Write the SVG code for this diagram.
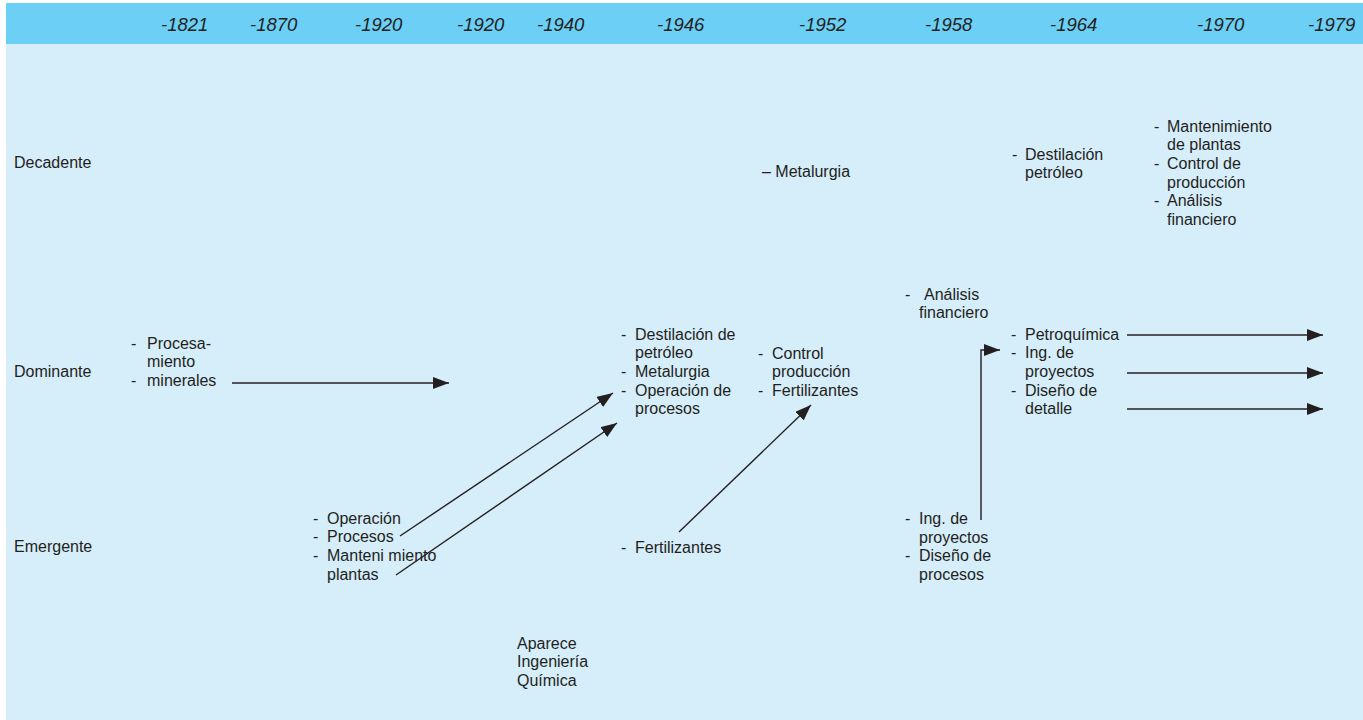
<svg xmlns="http://www.w3.org/2000/svg" width="1363" height="720" viewBox="0 0 1363 720">
<style>
.t{font-family:"Liberation Sans",Arial,sans-serif;font-size:16px;fill:#231f20}
.y{font-family:"Liberation Sans",Arial,sans-serif;font-size:18.5px;font-style:italic;fill:#231f20}
.c{stroke:#231f20;stroke-width:1.4;fill:none;marker-end:url(#ah)}
</style>
<defs>
<marker id="ah" markerUnits="userSpaceOnUse" markerWidth="18" markerHeight="13" refX="16" refY="6" orient="auto">
<path d="M0,0 L16,6 L0,12 z" fill="#231f20"/>
</marker>
</defs>
<rect x="0" y="0" width="1363" height="720" fill="#ffffff"/>
<rect x="6" y="3" width="1357" height="717" fill="#d6edfa"/>
<rect x="6" y="3" width="1357" height="41" fill="#6bcff6"/>
<g id="years">
<text class="y" x="161" y="31">-1821</text>
<text class="y" x="250" y="31">-1870</text>
<text class="y" x="355" y="31">-1920</text>
<text class="y" x="457" y="31">-1920</text>
<text class="y" x="537" y="31">-1940</text>
<text class="y" x="657" y="31">-1946</text>
<text class="y" x="799" y="31">-1952</text>
<text class="y" x="925" y="31">-1958</text>
<text class="y" x="1050" y="31">-1964</text>
<text class="y" x="1197" y="31">-1970</text>
<text class="y" x="1308" y="31">-1979</text>
</g>
<g id="rows">
<text class="t" x="14" y="168">Decadente</text>
<text class="t" x="14" y="377">Dominante</text>
<text class="t" x="14" y="552">Emergente</text>
</g>
<g id="n1821">
<text class="t"><tspan x="131" y="348.5">-</tspan><tspan x="147" y="348.5">Procesa-</tspan><tspan x="147" y="367.2">miento</tspan><tspan x="131" y="386">-</tspan><tspan x="147" y="386">minerales</tspan></text>
</g>
<g id="n1920e">
<text class="t"><tspan x="313" y="523.5">-</tspan><tspan x="327" y="523.5">Operación</tspan><tspan x="313" y="542.2">-</tspan><tspan x="327" y="542.2">Procesos</tspan><tspan x="313" y="560.9">-</tspan><tspan x="327" y="560.9">Manteni miento</tspan><tspan x="327" y="579.6">plantas</tspan></text>
</g>
<g id="n1940">
<text class="t"><tspan x="517" y="648.5">Aparece</tspan><tspan x="517" y="667.2">Ingeniería</tspan><tspan x="517" y="685.9">Química</tspan></text>
</g>
<g id="n1946d">
<text class="t"><tspan x="621" y="339.5">-</tspan><tspan x="635" y="339.5">Destilación de</tspan><tspan x="635" y="358.2">petróleo</tspan><tspan x="621" y="376.9">-</tspan><tspan x="635" y="376.9">Metalurgia</tspan><tspan x="621" y="395.6">-</tspan><tspan x="635" y="395.6">Operación de</tspan><tspan x="635" y="414.3">procesos</tspan></text>
</g>
<g id="n1946e">
<text class="t"><tspan x="621" y="552.5">-</tspan><tspan x="635" y="552.5">Fertilizantes</tspan></text>
</g>
<g id="n1952dec">
<text class="t" x="762" y="177">– Metalurgia</text>
</g>
<g id="n1952d">
<text class="t"><tspan x="758" y="358.5">-</tspan><tspan x="772" y="358.5">Control</tspan><tspan x="772" y="377.2">producción</tspan><tspan x="758" y="395.9">-</tspan><tspan x="772" y="395.9">Fertilizantes</tspan></text>
</g>
<g id="n1958d">
<text class="t"><tspan x="905" y="299.5">-</tspan><tspan x="924" y="299.5">Análisis</tspan><tspan x="919" y="318.2">financiero</tspan></text>
</g>
<g id="n1958e">
<text class="t"><tspan x="905" y="524">-</tspan><tspan x="919" y="524">Ing. de</tspan><tspan x="919" y="542.7">proyectos</tspan><tspan x="905" y="561.4">-</tspan><tspan x="919" y="561.4">Diseño de</tspan><tspan x="919" y="580.1">procesos</tspan></text>
</g>
<g id="n1964dec">
<text class="t"><tspan x="1012" y="159.5">-</tspan><tspan x="1025" y="159.5">Destilación</tspan><tspan x="1025" y="178.2">petróleo</tspan></text>
</g>
<g id="n1964d">
<text class="t"><tspan x="1011" y="339.5">-</tspan><tspan x="1025" y="339.5">Petroquímica</tspan><tspan x="1011" y="358.2">-</tspan><tspan x="1025" y="358.2">Ing. de</tspan><tspan x="1025" y="376.9">proyectos</tspan><tspan x="1011" y="395.6">-</tspan><tspan x="1025" y="395.6">Diseño de</tspan><tspan x="1025" y="414.3">detalle</tspan></text>
</g>
<g id="n1970dec">
<text class="t"><tspan x="1154" y="131.5">-</tspan><tspan x="1167" y="131.5">Mantenimiento</tspan><tspan x="1167" y="150.2">de plantas</tspan><tspan x="1154" y="168.9">-</tspan><tspan x="1167" y="168.9">Control de</tspan><tspan x="1167" y="187.6">producción</tspan><tspan x="1154" y="206.3">-</tspan><tspan x="1167" y="206.3">Análisis</tspan><tspan x="1167" y="225">financiero</tspan></text>
</g>
<g id="connectors">
<line class="c" x1="232" y1="383" x2="449" y2="383"/>
<line class="c" x1="400" y1="536" x2="613" y2="393"/>
<line class="c" x1="396" y1="575" x2="617" y2="423"/>
<line class="c" x1="679" y1="532" x2="811" y2="405"/>
<polyline class="c" points="981,520 981,350 1000,350"/>
<line class="c" x1="1127" y1="335" x2="1323" y2="335"/>
<line class="c" x1="1127" y1="373" x2="1323" y2="373"/>
<line class="c" x1="1127" y1="409" x2="1323" y2="409"/>
</g>
</svg>
